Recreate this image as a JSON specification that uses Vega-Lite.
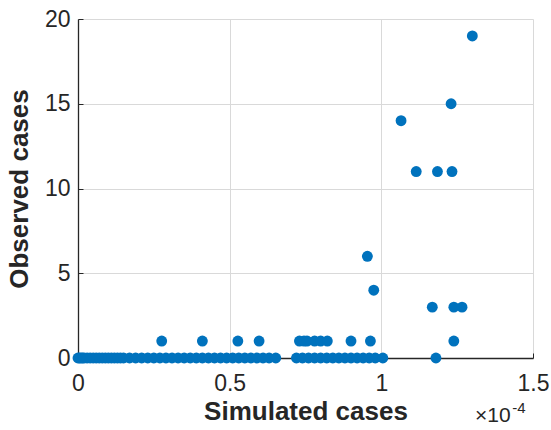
{
  "$schema": "https://vega.github.io/schema/vega-lite/v6.json",
  "width": 455,
  "height": 339,
  "autosize": {"type": "none"},
  "padding": {"left": 78, "top": 19, "right": 18, "bottom": 72},
  "background": "white",
  "config": {
    "view": {"stroke": null},
    "font": "Liberation Sans",
    "axis": {
      "domainColor": "#262626",
      "domainWidth": 1.3,
      "tickColor": "#262626",
      "tickSize": -5,
      "labelColor": "#262626",
      "labelFontSize": 23,
      "labelFont": "Liberation Sans",
      "labelFlush": false,
      "labelOverlap": false,
      "titleFont": "Liberation Sans",
      "titleFontSize": 26,
      "titleFontWeight": "bold",
      "titleColor": "#262626",
      "gridColor": "#d9d9d9",
      "gridWidth": 1
    }
  },
  "data": {
    "values": [
      {"sim": 0, "obs": 0}, {"sim": 0.0000005, "obs": 0}, {"sim": 0.000001, "obs": 0}, {"sim": 0.0000015, "obs": 0},
      {"sim": 0.000002, "obs": 0}, {"sim": 0.000003, "obs": 0}, {"sim": 0.000004, "obs": 0}, {"sim": 0.000005, "obs": 0},
      {"sim": 0.000006, "obs": 0}, {"sim": 0.000007, "obs": 0}, {"sim": 0.000008, "obs": 0}, {"sim": 0.000009, "obs": 0},
      {"sim": 0.00001, "obs": 0}, {"sim": 0.000011, "obs": 0}, {"sim": 0.000012, "obs": 0}, {"sim": 0.000013, "obs": 0},
      {"sim": 0.000014, "obs": 0}, {"sim": 0.000015, "obs": 0}, {"sim": 0.000017, "obs": 0}, {"sim": 0.000019, "obs": 0},
      {"sim": 0.000021, "obs": 0}, {"sim": 0.000023, "obs": 0}, {"sim": 0.000025, "obs": 0}, {"sim": 0.000027, "obs": 0},
      {"sim": 0.000029, "obs": 0}, {"sim": 0.000031, "obs": 0}, {"sim": 0.000033, "obs": 0}, {"sim": 0.000035, "obs": 0},
      {"sim": 0.000037, "obs": 0}, {"sim": 0.000039, "obs": 0}, {"sim": 0.000041, "obs": 0}, {"sim": 0.000043, "obs": 0},
      {"sim": 0.000045, "obs": 0}, {"sim": 0.000047, "obs": 0}, {"sim": 0.000049, "obs": 0}, {"sim": 0.000051, "obs": 0},
      {"sim": 0.000053, "obs": 0}, {"sim": 0.000055, "obs": 0}, {"sim": 0.000057, "obs": 0}, {"sim": 0.000059, "obs": 0},
      {"sim": 0.000061, "obs": 0}, {"sim": 0.000063, "obs": 0}, {"sim": 0.0000652, "obs": 0},
      {"sim": 0.000072, "obs": 0}, {"sim": 0.000074, "obs": 0}, {"sim": 0.000076, "obs": 0}, {"sim": 0.000078, "obs": 0},
      {"sim": 0.00008, "obs": 0}, {"sim": 0.000082, "obs": 0}, {"sim": 0.000084, "obs": 0}, {"sim": 0.000086, "obs": 0},
      {"sim": 0.000088, "obs": 0}, {"sim": 0.00009, "obs": 0}, {"sim": 0.000092, "obs": 0}, {"sim": 0.000094, "obs": 0},
      {"sim": 0.000096, "obs": 0}, {"sim": 0.000098, "obs": 0}, {"sim": 0.0001005, "obs": 0},
      {"sim": 0.000118, "obs": 0},
      {"sim": 0.0000276, "obs": 1}, {"sim": 0.000041, "obs": 1}, {"sim": 0.0000527, "obs": 1}, {"sim": 0.0000597, "obs": 1},
      {"sim": 0.000073, "obs": 1}, {"sim": 0.0000745, "obs": 1}, {"sim": 0.0000755, "obs": 1},
      {"sim": 0.000078, "obs": 1}, {"sim": 0.00008, "obs": 1}, {"sim": 0.0000822, "obs": 1},
      {"sim": 0.00009, "obs": 1}, {"sim": 0.0000964, "obs": 1}, {"sim": 0.0001239, "obs": 1},
      {"sim": 0.0001168, "obs": 3}, {"sim": 0.0001239, "obs": 3}, {"sim": 0.0001266, "obs": 3},
      {"sim": 0.0000975, "obs": 4}, {"sim": 0.0000954, "obs": 6},
      {"sim": 0.0001115, "obs": 11}, {"sim": 0.0001185, "obs": 11}, {"sim": 0.0001233, "obs": 11},
      {"sim": 0.0001065, "obs": 14}, {"sim": 0.000123, "obs": 15}, {"sim": 0.00013, "obs": 19}
    ]
  },
  "layer": [
    {
      "mark": {"type": "circle", "size": 118, "opacity": 1, "color": "#0072BD", "clip": false},
      "encoding": {
        "x": {
          "field": "sim", "type": "quantitative",
          "scale": {"domain": [0, 0.00015], "nice": false, "zero": false},
          "axis": {
            "values": [0, 0.00005, 0.0001, 0.00015],
            "labelExpr": "format(datum.value * 10000, '~g')",
            "title": "Simulated cases",
            "titlePadding": 3,
            "labelPadding": 19,
            "grid": true
          }
        },
        "y": {
          "field": "obs", "type": "quantitative",
          "scale": {"domain": [0, 20], "nice": false},
          "axis": {
            "values": [0, 5, 10, 15, 20],
            "title": "Observed cases",
            "titlePadding": 12,
            "labelPadding": 13,
            "grid": true
          }
        }
      }
    },
    {
      "data": {"values": [
        {"label": "×10", "sim": 0.0001309, "obs": -3.76, "part": "base"},
        {"label": "-4", "sim": 0.0001432, "obs": -3.24, "part": "exp"}
      ]},
      "mark": {"type": "text", "align": "left", "baseline": "alphabetic", "color": "#262626", "clip": false},
      "encoding": {
        "x": {"field": "sim", "type": "quantitative"},
        "y": {"field": "obs", "type": "quantitative"},
        "text": {"field": "label"},
        "size": {"field": "part", "type": "nominal", "scale": {"domain": ["base", "exp"], "range": [21, 15]}, "legend": null}
      }
    }
  ]
}
